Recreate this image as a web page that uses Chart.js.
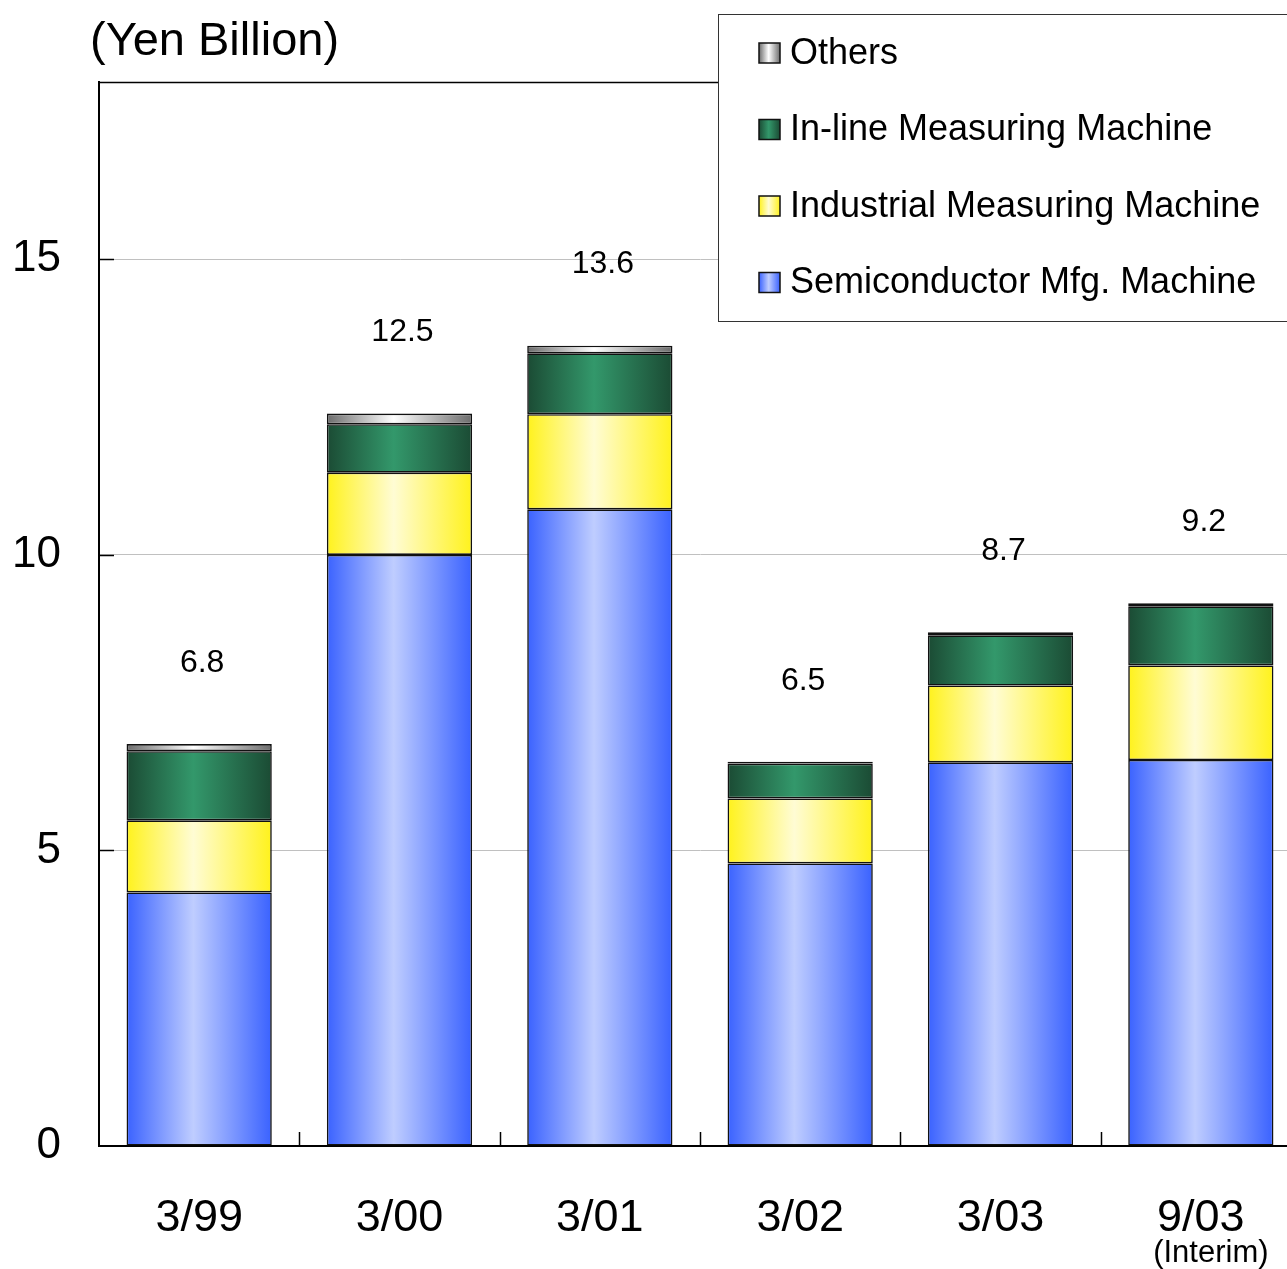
<!DOCTYPE html>
<html>
<head>
<meta charset="utf-8">
<title>Sales by product (Yen Billion)</title>
<script src="https://cdn.jsdelivr.net/npm/chart.js@4/dist/chart.umd.min.js"></script>
<style>
  html, body { margin: 0; padding: 0; background: #fff; overflow: hidden; }
  #wrap { position: relative; width: 1310px; height: 1269px; }
</style>
</head>
<body>
<div id="wrap"><canvas id="salesChart" width="1310" height="1269"></canvas></div>
<script>
// DATA
const categories = ["3/99", "3/00", "3/01", "3/02", "3/03", "9/03"];
const semiconductor = [4.29, 10.0, 10.77, 4.78, 6.49, 6.53];
const industrial = [1.22, 1.39, 1.61, 1.10, 1.30, 1.60];
const inline = [1.17, 0.82, 1.03, 0.59, 0.85, 1.00];
const others = [0.12, 0.18, 0.13, 0.03, 0.05, 0.05];
const totalLabels = ["6.8", "12.5", "13.6", "6.5", "8.7", "9.2"];
const yTicks = [0, 5, 10, 15];
const unitLabel = "(Yen Billion)";
const interimNote = "(Interim)";

const FONT = "'Liberation Sans', Arial, sans-serif";
const BAR_PCT = 0.725;

// dark edge -> light centre -> dark edge, like the old office charts
const palette = {
  semi: ["#3a62ff", "#bfcdff"],
  ind: ["#fff21c", "#fffcd4"],
  inl: ["#1b4b34", "#33986b"],
  oth: ["#6c6c6c", "#ffffff"],
};

function makeGrad(c, x0, x1, cols) {
  const g = c.createLinearGradient(x0, 0, x1, 0);
  g.addColorStop(0, cols[0]);
  g.addColorStop(0.46, cols[1]);
  g.addColorStop(1, cols[0]);
  return g;
}

function barFill(cols) {
  return (ctx) => {
    const chart = ctx.chart;
    const area = chart.chartArea;
    if (!area || ctx.dataIndex === undefined || !chart.scales.x) return cols[0];
    const cx = chart.scales.x.getPixelForValue(ctx.dataIndex);
    const half = (area.width / categories.length) * BAR_PCT / 2;
    return makeGrad(chart.ctx, cx - half, cx + half, cols);
  };
}

const series = [
  { label: "Semiconductor Mfg. Machine", data: semiconductor, cols: palette.semi },
  { label: "Industrial Measuring Machine", data: industrial, cols: palette.ind },
  { label: "In-line Measuring Machine", data: inline, cols: palette.inl },
  { label: "Others", data: others, cols: palette.oth },
];

// overlays: inward ticks, frame, totals, legend box, unit text
const decor = {
  id: "decor",
  afterDatasetsDraw(chart) {
    const c = chart.ctx;
    const a = chart.chartArea;
    const xs = chart.scales.x, ys = chart.scales.y;
    c.save();
    c.strokeStyle = "#000";
    c.lineWidth = 1.5;
    // top frame line
    c.beginPath();
    c.moveTo(a.left, a.top + 0.5);
    c.lineTo(a.right, a.top + 0.5);
    c.stroke();
    // inward y ticks
    yTicks.forEach((v) => {
      if (v === 0) return;
      const y = Math.round(ys.getPixelForValue(v)) + 0.5;
      c.beginPath();
      c.moveTo(a.left, y);
      c.lineTo(a.left + 15, y);
      c.stroke();
    });
    // inward x ticks between categories
    for (let i = 1; i < categories.length; i++) {
      const x = Math.round((xs.getPixelForValue(i - 1) + xs.getPixelForValue(i)) / 2) + 0.5;
      c.beginPath();
      c.moveTo(x, a.bottom);
      c.lineTo(x, a.bottom - 14);
      c.stroke();
    }
    // totals above the stacks
    c.fillStyle = "#000";
    c.font = "32px " + FONT;
    c.textAlign = "center";
    c.textBaseline = "middle";
    categories.forEach((cat, i) => {
      const top = semiconductor[i] + industrial[i] + inline[i] + others[i];
      c.fillText(totalLabels[i], xs.getPixelForValue(i) + 3, ys.getPixelForValue(top) - 81);
    });
    c.restore();
  },
  afterDraw(chart) {
    const c = chart.ctx;
    const xs = chart.scales.x;
    c.save();
    // unit caption
    c.fillStyle = "#000";
    c.font = "47px " + FONT;
    c.textAlign = "left";
    c.textBaseline = "alphabetic";
    c.fillText(unitLabel, 90, 55);
    // interim note under last category
    c.font = "31px " + FONT;
    c.textAlign = "center";
    c.fillText(interimNote, xs.getPixelForValue(categories.length - 1) + 10, 1262);
    // legend box
    c.fillStyle = "#fff";
    c.fillRect(718, 14, 700, 307);
    c.strokeStyle = "#333";
    c.lineWidth = 1;
    c.strokeRect(718.5, 14.5, 700, 307);
    const rows = series.slice().reverse();
    c.font = "36px " + FONT;
    c.textAlign = "left";
    c.textBaseline = "middle";
    rows.forEach((s, i) => {
      const cy = 53 + i * 76.5;
      c.fillStyle = makeGrad(c, 759, 780, s.cols);
      c.fillRect(759, cy - 10, 21, 20);
      c.strokeStyle = "#111";
      c.lineWidth = 1.5;
      c.strokeRect(759, cy - 10, 21, 20);
      c.fillStyle = "#000";
      c.fillText(s.label, 790, cy + 1);
    });
    c.restore();
  },
};

new Chart(document.getElementById("salesChart"), {
  type: "bar",
  data: {
    labels: categories,
    datasets: series.map((s) => ({
      label: s.label,
      data: s.data,
      backgroundColor: barFill(s.cols),
      borderColor: "#111",
      borderWidth: 1.6,
      borderSkipped: false,
      categoryPercentage: 1,
      barPercentage: BAR_PCT,
    })),
  },
  options: {
    responsive: false,
    animation: false,
    devicePixelRatio: 1,
    layout: { padding: { top: 82, right: 9, left: 0, bottom: 0 } },
    plugins: {
      legend: { display: false },
      tooltip: { enabled: false },
    },
    scales: {
      x: {
        stacked: true,
        grid: { display: false, drawTicks: false },
        border: { color: "#000", width: 2 },
        ticks: {
          color: "#000",
          font: { size: 45, family: FONT },
          padding: 46,
          maxRotation: 0,
          autoSkip: false,
        },
        afterFit: (s) => { s.height = 123; },
      },
      y: {
        stacked: true,
        min: 0,
        max: 18,
        afterBuildTicks: (s) => { s.ticks = yTicks.map((v) => ({ value: v })); },
        grid: {
          drawTicks: false,
          lineWidth: 1,
          color: (ctx) => (ctx.tick && ctx.tick.value > 0 ? "#c0c0c0" : "rgba(0,0,0,0)"),
        },
        border: { color: "#000", width: 2 },
        ticks: {
          color: "#000",
          font: { size: 44, family: FONT },
          padding: 38,
        },
        afterFit: (s) => { s.width = 99; },
      },
    },
  },
  plugins: [decor],
});
</script>
</body>
</html>
